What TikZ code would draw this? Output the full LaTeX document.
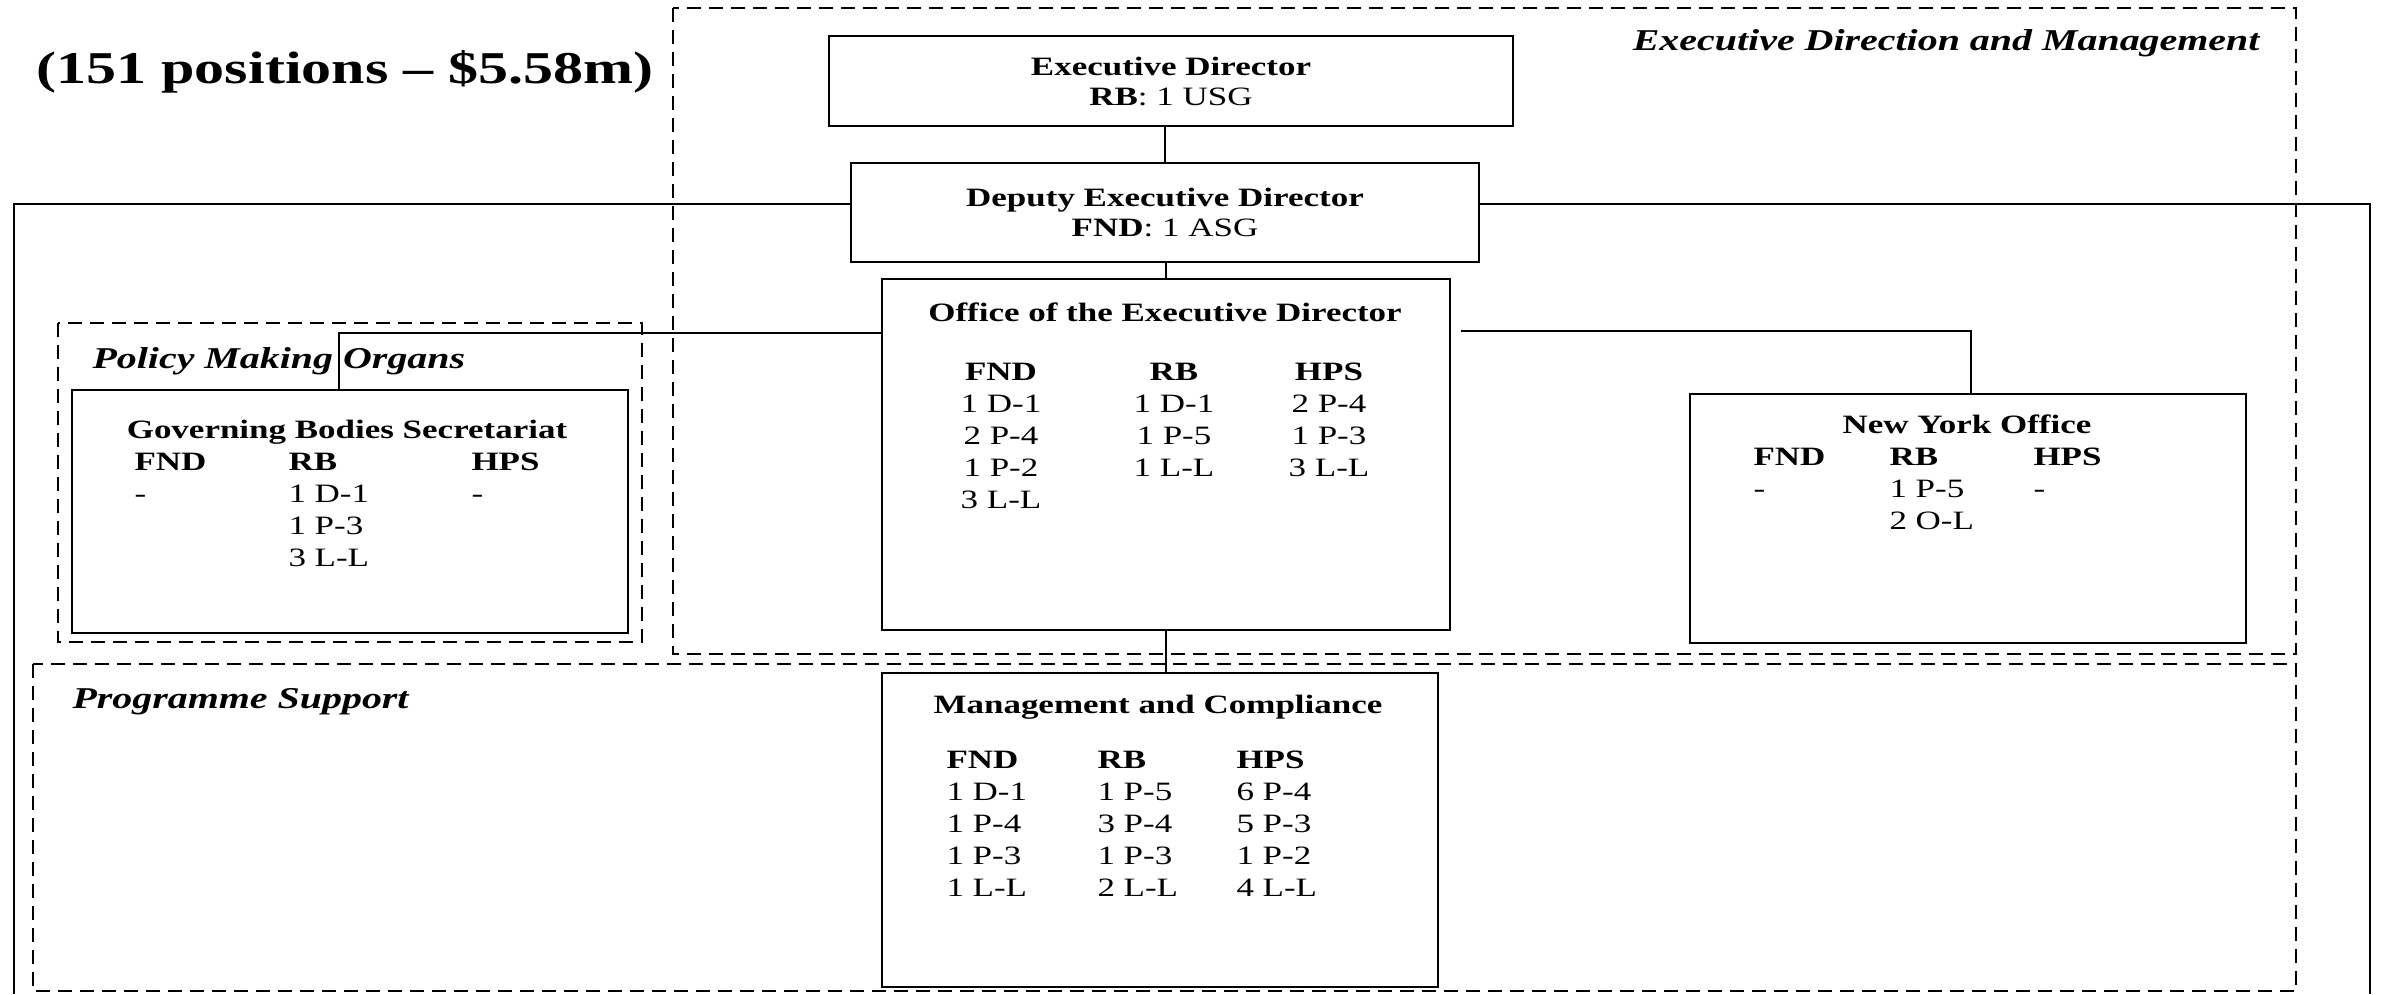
\documentclass[tikz,border=0pt]{standalone}
\usepackage{fontspec}
\setmainfont{Liberation Serif}[FakeStretch=1.32]
\usetikzlibrary{calc,positioning}

\tikzset{
	unitbox/.style={draw,line width=0.8pt,inner sep=0pt,anchor=north west},
	groupbox/.style={draw,line width=0.8pt,dash pattern=on 5.6pt off 3.2pt},
	link/.style={line width=0.8pt},
	grades/.style={inner sep=0pt,font=\fontsize{10.6}{12.8}\selectfont},
	unithead/.style={inner sep=0pt,font=\fontsize{10.6}{12.8}\selectfont\bfseries},
	grouplabel/.style={inner sep=0pt,font=\fontsize{12.1}{14}\selectfont\bfseries\itshape},
	totals/.style={inner sep=0pt,font=\fontsize{18.2}{20}\selectfont\bfseries}
}

\begin{document}
\begin{tikzpicture}[x=0.4pt,y=-0.4pt]
	\useasboundingbox (0,0) rectangle (2381,994);
	\node[totals,anchor=base west] (budget) at (36,83) {(151 positions – \$5.58m)};
	%
	% groups
	\draw[groupbox] (673,8) rectangle (2296,654);
	\node[grouplabel,anchor=base east] (edmlabel) at (2260,50) {Executive Direction and Management};
	\draw[groupbox] (58,323) rectangle (642,642);
	\node[grouplabel,anchor=base west] (pmolabel) at (92,368) {Policy Making Organs};
	\draw[groupbox] (33,664) rectangle (2296,991);
	\node[grouplabel,anchor=base west] (pslabel) at (72,708) {Programme Support};
	%
	% top of the chart
	\node[unitbox,grades,font=\fontsize{10.6}{12}\selectfont,align=center,minimum width=273.6pt,minimum height=36pt] (ed) at (828,35) {\textbf{Executive Director}\\\textbf{RB}: 1 USG};
	\node[unitbox,grades,font=\fontsize{10.6}{12}\selectfont,align=center,minimum width=251.2pt,minimum height=39.6pt] (ded) at (850,162) {\textbf{Deputy Executive Director}\\\textbf{FND}: 1 ASG};
	%
	% Office of the Executive Director
	\node[unitbox,minimum width=227.2pt,minimum height=140.4pt] (oed) at (881,278) {};
	\node[unithead,anchor=base] (oedtitle) at (1165,321) {Office of the Executive Director};
	\node[grades,anchor=base] (oedfnd) at (1001,380) {\begin{tabular}[t]{@{}c@{}}\textbf{FND}\\1 D-1\\2 P-4\\1 P-2\\3 L-L\end{tabular}};
	\node[grades,anchor=base] (oedrb) at (1174,380) {\begin{tabular}[t]{@{}c@{}}\textbf{RB}\\1 D-1\\1 P-5\\1 L-L\end{tabular}};
	\node[grades,anchor=base] (oedhps) at (1329,380) {\begin{tabular}[t]{@{}c@{}}\textbf{HPS}\\2 P-4\\1 P-3\\3 L-L\end{tabular}};
	%
	% Governing Bodies Secretariat
	\node[unitbox,minimum width=222.4pt,minimum height=97.2pt] (gbs) at (71,389) {};
	\node[unithead,anchor=base] (gbstitle) at (347,438) {Governing Bodies Secretariat};
	\node[grades,anchor=base west] (gbsfnd) at (134,470) {\begin{tabular}[t]{@{}l@{}}\textbf{FND}\\-\end{tabular}};
	\node[grades,anchor=base west] (gbsrb) at (288,470) {\begin{tabular}[t]{@{}l@{}}\textbf{RB}\\1 D-1\\1 P-3\\3 L-L\end{tabular}};
	\node[grades,anchor=base west] (gbshps) at (471,470) {\begin{tabular}[t]{@{}l@{}}\textbf{HPS}\\-\end{tabular}};
	%
	% New York Office
	\node[unitbox,minimum width=222.4pt,minimum height=99.6pt] (nyo) at (1689,393) {};
	\node[unithead,anchor=base] (nyotitle) at (1967,433) {New York Office};
	\node[grades,anchor=base west] (nyofnd) at (1753,465) {\begin{tabular}[t]{@{}l@{}}\textbf{FND}\\-\end{tabular}};
	\node[grades,anchor=base west] (nyorb) at (1889,465) {\begin{tabular}[t]{@{}l@{}}\textbf{RB}\\1 P-5\\2 O-L\end{tabular}};
	\node[grades,anchor=base west] (nyohps) at (2033,465) {\begin{tabular}[t]{@{}l@{}}\textbf{HPS}\\-\end{tabular}};
	%
	% Management and Compliance
	\node[unitbox,minimum width=222.4pt,minimum height=125.6pt] (mc) at (881,672) {};
	\node[unithead,anchor=base] (mctitle) at (1158,713) {Management and Compliance};
	\node[grades,anchor=base west] (mcfnd) at (946,768) {\begin{tabular}[t]{@{}l@{}}\textbf{FND}\\1 D-1\\1 P-4\\1 P-3\\1 L-L\end{tabular}};
	\node[grades,anchor=base west] (mcrb) at (1097,768) {\begin{tabular}[t]{@{}l@{}}\textbf{RB}\\1 P-5\\3 P-4\\1 P-3\\2 L-L\end{tabular}};
	\node[grades,anchor=base west] (mchps) at (1236,768) {\begin{tabular}[t]{@{}l@{}}\textbf{HPS}\\6 P-4\\5 P-3\\1 P-2\\4 L-L\end{tabular}};
	%
	% lines
	\coordinate (frametl) at (14,204);
	\coordinate (framebl) at (14,994);
	\coordinate (frametr) at (2370,204);
	\coordinate (framebr) at (2370,994);
	\coordinate (gbsjoint) at (339,333);
	\coordinate (nyojoint) at (1971,331);
	\draw[link] (ded.north) -- (ded.north |- ed.south);
	\draw[link] (oed.north) -- (oed.north |- ded.south);
	\draw[link] (ded.west |- frametl) -- (frametl) -- (framebl);
	\draw[link] (ded.east |- frametr) -- (frametr) -- (framebr);
	\draw[link] (oed.west |- gbsjoint) -- (gbsjoint) -- (gbsjoint |- gbs.north);
	\draw[link,shorten <=4pt] (oed.east |- nyojoint) -- (nyojoint) -- (nyojoint |- nyo.north);
	\draw[link] (oed.south) -- (oed.south |- mc.north);
\end{tikzpicture}
\end{document}
